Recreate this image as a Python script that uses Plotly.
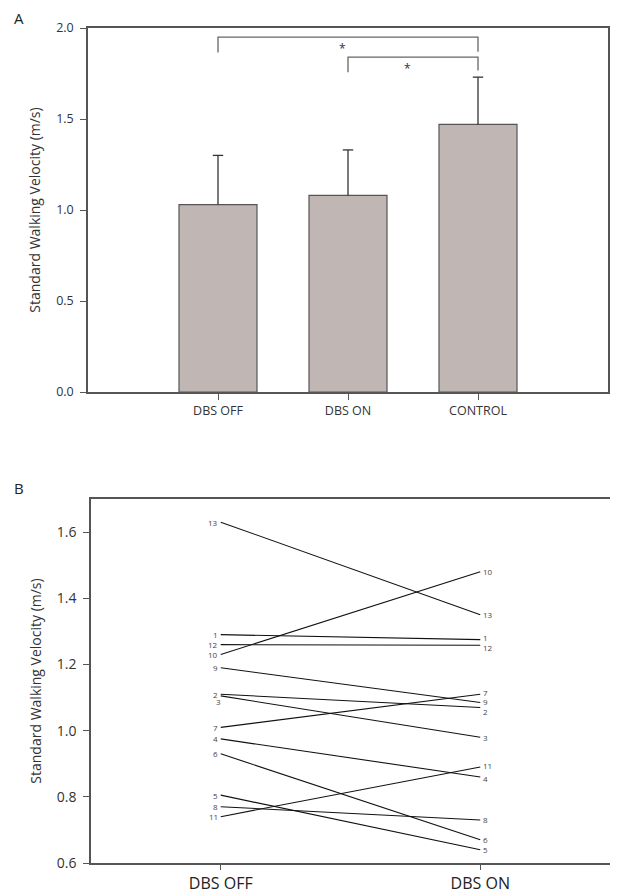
import plotly.graph_objects as go

# panel A: group means and SD
groups = ["DBS OFF", "DBS ON", "CONTROL"]
means = [1.03, 1.08, 1.47]
sds = [0.27, 0.25, 0.26]

# significance brackets: (left group, right group, bar height, left leg end, right leg end)
brackets = [
    (1, 3, 1.95, 1.865, 1.87),
    (2, 3, 1.84, 1.757, 1.767),
]

# panel B: individual subjects
subjects = ["1", "2", "3", "4", "5", "6", "7", "8", "9", "10", "11", "12", "13"]
dbs_off = [1.29, 1.11, 1.105, 0.975, 0.805, 0.93, 1.01, 0.77, 1.19, 1.23, 0.74, 1.26, 1.63]
dbs_on = [1.275, 1.07, 0.98, 0.86, 0.64, 0.67, 1.11, 0.73, 1.085, 1.48, 0.89, 1.258, 1.35]

# page has an 8px body margin, so the figure is sized to the visible area
OFF = 8
W, H = 618 - OFF, 895 - OFF
FONT = "Open Sans"
AXC = "#555555"
TXT = "#333333"


def px(x):
    return (x - OFF) / W


def py(y):
    return 1 - (y - OFF) / H


fig = go.Figure()

# ---- panel A
fig.add_trace(go.Bar(
    x=[1, 2, 3], y=means, width=0.6,
    marker=dict(color="#c0b6b3", line=dict(color="#555555", width=1.2)),
    xaxis="x", yaxis="y", showlegend=False,
))

# upper-only error bars with a cap at the top
cap = 0.04
ex, ey = [], []
for i, m in enumerate(means):
    g = i + 1
    ex += [g, g, None, g - cap, g + cap, None]
    ey += [m, m + sds[i], None, m + sds[i], m + sds[i], None]
fig.add_trace(go.Scatter(x=ex, y=ey, mode="lines", line=dict(color="#333333", width=1.3),
                         xaxis="x", yaxis="y", showlegend=False, hoverinfo="skip"))

for g1, g2, top, l1, l2 in brackets:
    fig.add_shape(type="path", xref="x", yref="y",
                  path=f"M {g1},{l1} L {g1},{top} L {g2},{top} L {g2},{l2}",
                  line=dict(color="#666666", width=1.3))
    fig.add_annotation(x=(g1 + g2) / 2 - 0.04, y=top, xref="x", yref="y", text="*",
                       showarrow=False, yanchor="top", yshift=-1,
                       font=dict(family=FONT, size=12, color=TXT))

# ---- panel B
lnudge = {"3": (3, -6)}
rnudge = {"1": (0, 2), "12": (0, -2), "7": (0, 2), "9": (0, 1), "2": (0, -4),
          "11": (0, 2), "4": (0, -2)}
for i, s in enumerate(subjects):
    fig.add_trace(go.Scatter(
        x=[1, 2], y=[dbs_off[i], dbs_on[i]], mode="lines",
        line=dict(color="#111111", width=1.1),
        xaxis="x2", yaxis="y2", showlegend=False, hoverinfo="skip",
    ))
    lx, ly = lnudge.get(s, (0, 0))
    rx, ry = rnudge.get(s, (0, 0))
    fig.add_annotation(x=1, y=dbs_off[i], xref="x2", yref="y2", text=s, showarrow=False,
                       xanchor="right", xshift=-1 + lx, yshift=ly,
                       font=dict(family=FONT, size=8, color="#444444"))
    fig.add_annotation(x=2, y=dbs_on[i], xref="x2", yref="y2", text=s, showarrow=False,
                       xanchor="left", xshift=1 + rx, yshift=ry,
                       font=dict(family=FONT, size=8, color="#444444"))

# panel letters
fig.add_annotation(x=px(12), y=1, xref="paper", yref="paper", text="A",
                   yanchor="top", yshift=2,
                   showarrow=False, font=dict(family=FONT, size=15, color="#222222"))
fig.add_annotation(x=px(12), y=py(488), xref="paper", yref="paper", text="B",
                   showarrow=False, font=dict(family=FONT, size=15, color="#222222"))

axis_common = dict(showline=True, mirror=True, linecolor=AXC, linewidth=1.5,
                   showgrid=False, zeroline=False, ticks="outside", ticklen=6,
                   tickcolor=AXC, tickwidth=1.2, automargin=False)

fig.update_layout(
    width=W, height=H,
    margin=dict(l=0, r=0, t=0, b=0, autoexpand=False),
    paper_bgcolor="white", plot_bgcolor="white",
    font=dict(family=FONT, color=TXT),
    xaxis=dict(axis_common, domain=[px(88), px(608)], range=[0, 4],
               tickvals=[1, 2, 3], ticktext=groups, anchor="y",
               tickfont=dict(size=12.5, color=TXT)),
    yaxis=dict(axis_common, domain=[py(392), py(28)], range=[0, 2],
               tickvals=[0, 0.5, 1.0, 1.5, 2.0], tickformat=".1f", anchor="x",
               tickfont=dict(size=12.5, color=TXT), ticklabelstandoff=4,
               title=dict(text="Standard Walking Velocity (m/s)", standoff=12,
                          font=dict(size=14, color=TXT))),
    xaxis2=dict(axis_common, domain=[px(91), px(610)], range=[0.5, 2.5],
                tickvals=[1, 2], ticktext=["DBS OFF", "DBS ON"], anchor="y2",
                ticklen=5, tickfont=dict(size=16, color="#222222")),
    yaxis2=dict(axis_common, domain=[py(863), py(499)], range=[0.6, 1.7],
                tickvals=[0.6, 0.8, 1.0, 1.2, 1.4, 1.6], tickformat=".1f", anchor="x2",
                tickfont=dict(size=14, color=TXT), ticklabelstandoff=4,
                title=dict(text="Standard Walking Velocity (m/s)", standoff=12,
                           font=dict(size=14, color=TXT))),
)

fig.write_html("out.html")
